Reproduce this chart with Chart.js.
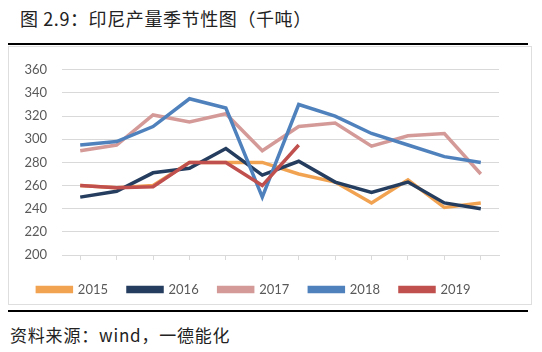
<!DOCTYPE html>
<html lang="zh-CN">
<head>
<meta charset="UTF-8">
<title>印尼产量季节性图</title>
<script src="https://cdn.jsdelivr.net/npm/chart.js"></script>
<style>
  html, body { margin: 0; padding: 0; background: #fff; }
  body { width: 542px; height: 352px; position: relative; overflow: hidden; }
  .titulo {
    position: absolute; left: 20px; top: 5px;
    font-family: "Noto Sans CJK SC", sans-serif; font-size: 18px; color: #222;
    line-height: 26px; letter-spacing: 0.6px;
  }
  .linha-top { position: absolute; left: 8px; top: 43px; width: 520px; height: 2px; background: #000; }
  .linha-bottom { position: absolute; left: 8px; top: 310px; width: 520px; height: 2px; background: #000; }
  .caixa {
    position: absolute; left: 8px; top: 46px; width: 524px; height: 259px;
    border: 1px solid #dedede; box-sizing: border-box;
  }
  .grafico { position: absolute; left: 9px; top: 47px; width: 522px; height: 257px; }
  .fonte {
    position: absolute; left: 10px; top: 322px;
    font-family: "Noto Sans CJK SC", sans-serif; font-size: 17px; color: #222;
    line-height: 26px; letter-spacing: 0.8px;
  }
</style>
</head>
<body>
<div class="titulo">图 2.9：印尼产量季节性图（千吨）</div>
<div class="linha-top"></div>
<div class="caixa"></div>
<div class="grafico"><canvas id="chart"></canvas></div>
<div class="linha-bottom"></div>
<div class="fonte">资料来源：wind，一德能化</div>

<script>
  // dados (mil toneladas)
  const meses = ['1', '2', '3', '4', '5', '6', '7', '8', '9', '10', '11', '12'];
  const anos = ['2015', '2016', '2017', '2018', '2019'];
  const dados2015 = [260, 258, 260, 280, 280, 280, 270, 263, 245, 265, 241, 245];
  const dados2016 = [250, 255, 271, 275, 292, 269, 281, 263, 254, 263, 245, 240];
  const dados2017 = [290, 295, 321, 315, 322, 290, 311, 314, 294, 303, 305, 270];
  const dados2018 = [295, 298, 311, 335, 327, 250, 330, 320, 305, 295, 285, 280];
  const dados2019 = [260, 258, 259, 280, 280, 260, 295];
  const cores = ['#f2a352', '#253d5e', '#d49a98', '#4f81bd', '#c0504d'];

  const series = [dados2015, dados2016, dados2017, dados2018, dados2019];

  // anos mais recentes desenhados por cima
  const datasets = series.map((d, i) => ({
    label: anos[i],
    data: d,
    borderColor: cores[i],
    backgroundColor: cores[i],
    borderWidth: 3.5,
    pointRadius: 0,
    tension: 0,
    fill: false,
    order: series.length - i
  }));

  const fonteEixo = { family: 'Lato, "Liberation Sans", sans-serif', size: 13 };

  new Chart(document.getElementById('chart'), {
    type: 'line',
    data: { labels: meses, datasets: datasets },
    options: {
      responsive: true,
      maintainAspectRatio: false,
      animation: false,
      layout: { padding: { top: 17, right: 32, bottom: -2, left: 0 } },
      plugins: {
        tooltip: { enabled: false },
        legend: {
          position: 'bottom',
          labels: {
            boxWidth: 34,
            boxHeight: 4,
            padding: 20,
            color: '#595959',
            font: fonteEixo,
            sort: (a, b) => a.datasetIndex - b.datasetIndex
          }
        }
      },
      scales: {
        x: {
          offset: true,
          afterFit: function (scale) { scale.height = 8; },
          grid: {
            drawOnChartArea: false,
            drawTicks: true,
            tickLength: 5,
            color: '#d9d9d9'
          },
          border: { color: '#d9d9d9' },
          ticks: { color: '#595959', font: fonteEixo, padding: 4 }
        },
        y: {
          min: 200,
          max: 360,
          afterFit: function (scale) { scale.width = 53; },
          grid: { color: '#d9d9d9', drawTicks: false },
          border: { display: false },
          ticks: { stepSize: 20, color: '#595959', font: fonteEixo, padding: 15 }
        }
      }
    }
  });
</script>
</body>
</html>
